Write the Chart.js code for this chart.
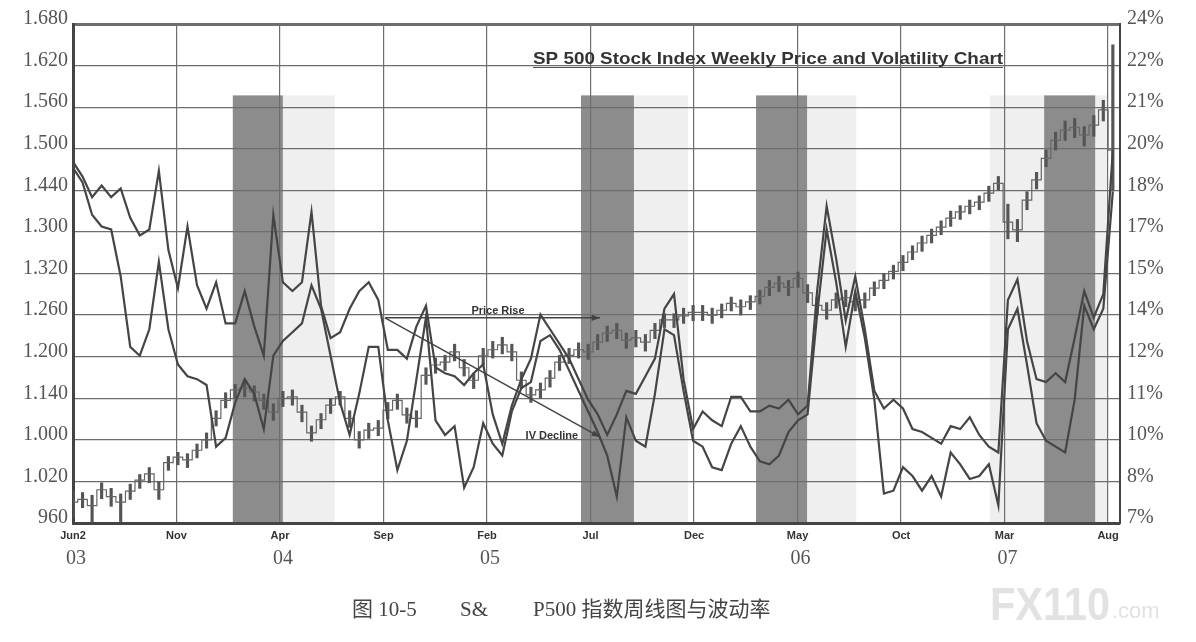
<!DOCTYPE html>
<html>
<head>
<meta charset="utf-8">
<script src="https://cdn.jsdelivr.net/npm/chart.js@4.4.1/dist/chart.umd.min.js"></script>
<style>
  html, body { margin: 0; padding: 0; background: #fff; }
  #wrap { width: 1196px; height: 642px; }
</style>
</head>
<body>
<div id="wrap"><canvas id="chart" width="1196" height="642"></canvas></div>
<script>
// weeks since Jun 2003, sampled every second week
const weeks = [0,2,4,6,8,10,12,14,16,18,20,22,24,26,28,30,32,34,36,38,
  40,42,44,46,48,50,52,54,56,58,60,62,64,66,68,70,72,74,76,78,
  80,82,84,86,88,90,92,94,96,98,100,102,104,106,108,110,112,114,116,118,
  120,122,124,126,128,130,132,134,136,138,140,142,144,146,148,150,152,154,156,158,
  160,162,164,166,168,170,172,174,176,178,180,182,184,186,188,190,192,194,196,198,
  200,202,204,206,208,210,212,214,216,218];

// weekly price range (low / high)
const priceLow = [968,982,961,995,984,962,994,1010,1018,994,
  1036,1044,1040,1054,1068,1100,1126,1140,1142,1136,
  1124,1108,1128,1130,1106,1078,1096,1118,1130,1098,
  1068,1082,1086,1110,1124,1104,1098,1160,1176,1180,
  1194,1172,1154,1188,1198,1204,1194,1154,1134,1140,
  1156,1180,1190,1198,1196,1210,1222,1226,1212,1214,
  1208,1226,1242,1242,1248,1252,1252,1248,1256,1266,
  1260,1268,1276,1288,1294,1288,1300,1278,1260,1254,
  1270,1272,1266,1270,1288,1298,1312,1324,1340,1352,
  1364,1376,1388,1398,1406,1412,1424,1440,1370,1366,
  1412,1442,1474,1498,1512,1516,1504,1518,1540,1440];
const priceHigh = [1006,1004,1000,1018,1010,1002,1016,1030,1040,1020,
  1056,1062,1060,1074,1090,1122,1148,1160,1166,1158,
  1146,1132,1150,1152,1130,1100,1118,1140,1150,1122,
  1092,1104,1108,1134,1146,1126,1122,1184,1198,1202,
  1218,1196,1176,1212,1222,1228,1218,1178,1156,1162,
  1180,1202,1212,1220,1218,1232,1244,1248,1234,1238,
  1232,1248,1262,1262,1270,1274,1274,1270,1276,1286,
  1282,1288,1296,1310,1316,1310,1322,1304,1286,1278,
  1292,1296,1290,1292,1308,1320,1332,1346,1360,1374,
  1384,1396,1410,1418,1426,1432,1446,1460,1420,1398,
  1438,1466,1498,1524,1540,1544,1532,1548,1570,1650];
// weekly close
const priceClose = [990,994,985,1008,998,990,1006,1022,1031,1008,
  1047,1055,1051,1065,1080,1111,1137,1152,1155,1149,
  1137,1120,1140,1142,1120,1090,1109,1130,1142,1111,
  1080,1094,1097,1123,1137,1116,1111,1173,1188,1192,
  1207,1184,1166,1201,1210,1217,1207,1166,1145,1152,
  1169,1192,1202,1210,1207,1221,1234,1238,1224,1227,
  1221,1238,1253,1253,1259,1264,1264,1260,1267,1277,
  1272,1279,1287,1300,1306,1300,1313,1292,1274,1267,
  1282,1285,1279,1282,1299,1310,1323,1336,1351,1364,
  1375,1387,1400,1409,1417,1423,1436,1450,1394,1383,
  1426,1455,1486,1512,1527,1531,1520,1534,1556,1498];

// the two volatility curves (%), upper and lower envelope
const upperVol = [19.3,18.8,18.1,18.5,18.1,18.4,17.4,16.8,17.0,19.0,
  16.3,15.0,17.1,15.1,14.3,15.2,13.8,13.8,14.9,13.7,
  12.7,17.5,15.2,14.9,15.2,17.6,14.4,13.3,13.5,14.3,
  14.9,15.2,14.6,12.9,12.9,12.6,13.7,14.4,12.3,12.1,
  12.0,11.7,12.1,12.4,10.7,9.7,11.0,11.9,12.6,14.1,
  13.6,13.1,12.6,11.9,11.2,10.7,10.0,10.7,11.5,11.4,
  12.0,12.6,14.3,14.8,11.9,10.2,10.8,10.5,10.3,11.3,
  11.3,10.8,10.8,11.0,10.9,11.2,10.7,11.0,14.9,17.8,
  16.0,13.9,15.4,13.6,11.5,10.9,11.2,10.9,10.2,10.1,
  9.9,9.7,10.3,10.2,10.6,10.0,9.6,9.4,14.6,15.3,
  13.2,11.9,11.8,12.1,11.8,13.3,14.9,14.0,14.8,19.7];
const lowerVol = [19.1,18.6,17.5,17.1,17.0,15.4,13.0,12.7,13.6,15.9,
  13.6,12.4,12.0,11.9,11.7,9.6,9.9,11.1,11.9,11.4,
  10.2,12.7,13.2,13.5,13.8,15.1,14.3,12.7,11.1,10.0,
  11.4,13.0,13.0,10.5,8.8,9.8,11.9,14.0,10.5,10.0,
  10.3,8.2,8.9,10.4,9.7,9.3,10.8,11.6,11.8,13.2,
  13.4,12.9,12.2,11.5,10.8,10.1,9.3,7.9,10.6,9.8,
  9.6,11.4,13.6,13.4,11.5,9.8,9.6,8.9,8.8,9.7,
  10.3,9.6,9.1,9.0,9.3,10.1,10.5,10.7,14.1,17.0,
  15.2,13.0,14.9,13.3,11.2,8.0,8.1,8.9,8.6,8.1,
  8.6,7.9,9.4,9.0,8.5,8.6,9.0,7.6,13.6,14.3,
  12.4,10.4,9.8,9.6,9.4,11.2,14.4,13.6,14.3,18.3];

// axis ticks, labels as printed
const xTickWeeks = [0, 21.7, 43.4, 65.1, 86.8, 108.5, 130.2, 151.9, 173.6, 195.3, 217];
const xTickLabels = ["Jun2", "Nov", "Apr", "Sep", "Feb", "Jul", "Dec", "May", "Oct", "Mar", "Aug"];
const yearWeeks = [0, 43.4, 86.8, 151.9, 195.3];
const yearLabels = ["03", "04", "05", "06", "07"];
const leftTickValues = [960, 1020, 1080, 1140, 1200, 1260, 1320, 1380, 1440, 1500, 1560, 1620, 1680];
const leftLabels = ["960", "1.020", "1.000", "1.140", "1.200", "1.260", "1.320", "1.300", "1.440", "1.500", "1.560", "1.620", "1.680"];
const rightTickValues = [7, 8.42, 9.83, 11.25, 12.67, 14.08, 15.5, 16.92, 18.33, 19.75, 21.17, 22.58, 24];
const rightLabels = ["7%", "8%", "10%", "11%", "12%", "14%", "15%", "17%", "18%", "20%", "21%", "22%", "24%"];

// shaded periods [startWeek, endWeek], top at price 1577
const darkBands = [[33.5, 44.0], [106.5, 117.6], [143.2, 153.9], [203.6, 214.3]];
const lightBands = [[44.0, 54.9], [117.6, 128.9], [153.9, 164.2], [192.2, 203.6], [214.3, 217]];
const bandTop = 1577;

// annotation arrows [week, price]
const arrowStart = [65.4, 1256];
const priceRiseEnd = [110.5, 1256];
const ivDeclineEnd = [110.5, 1084];
const priceRiseLabelAt = [89.1, 1266];
const ivDeclineLabelAt = [100.4, 1086];

const serif = "'Liberation Serif', 'DejaVu Serif', serif";
const sans = "'Liberation Sans', Arial, sans-serif";
const title = "SP 500 Stock Index Weekly Price and Volatility Chart";

const bandsPlugin = {
  id: "bands",
  beforeDraw(chart) {
    const { ctx, scales: { x, y } } = chart;
    const top = y.getPixelForValue(bandTop);
    const bottom = y.getPixelForValue(960);
    ctx.save();
    ctx.fillStyle = "#efefef";
    lightBands.forEach(([a, b]) => {
      const x0 = x.getPixelForValue(a), x1 = x.getPixelForValue(b);
      ctx.fillRect(x0, top, x1 - x0, bottom - top);
    });
    ctx.fillStyle = "#8c8c8c";
    darkBands.forEach(([a, b]) => {
      const x0 = x.getPixelForValue(a), x1 = x.getPixelForValue(b);
      ctx.fillRect(x0, top, x1 - x0, bottom - top);
    });
    ctx.restore();
  },
};

function arrow(ctx, x0, y0, x1, y1) {
  const ang = Math.atan2(y1 - y0, x1 - x0);
  ctx.beginPath();
  ctx.moveTo(x0, y0);
  ctx.lineTo(x1, y1);
  ctx.stroke();
  ctx.beginPath();
  ctx.moveTo(x1, y1);
  ctx.lineTo(x1 - 9 * Math.cos(ang - 0.35), y1 - 9 * Math.sin(ang - 0.35));
  ctx.lineTo(x1 - 9 * Math.cos(ang + 0.35), y1 - 9 * Math.sin(ang + 0.35));
  ctx.closePath();
  ctx.fill();
}

const annotationPlugin = {
  id: "annotations",
  afterDatasetsDraw(chart) {
    const { ctx, scales: { x, y } } = chart;
    const px = (p) => [x.getPixelForValue(p[0]), y.getPixelForValue(p[1])];
    const s = px(arrowStart), e1 = px(priceRiseEnd), e2 = px(ivDeclineEnd);
    ctx.save();
    ctx.strokeStyle = "#444";
    ctx.fillStyle = "#444";
    ctx.lineWidth = 1.5;
    arrow(ctx, s[0], s[1], e1[0], e1[1]);
    arrow(ctx, s[0], s[1], e2[0], e2[1]);
    ctx.font = "bold 11px " + sans;
    ctx.textAlign = "center";
    ctx.textBaseline = "middle";
    ctx.fillStyle = "#333";
    const l1 = px(priceRiseLabelAt), l2 = px(ivDeclineLabelAt);
    ctx.fillText("Price Rise", l1[0], l1[1]);
    ctx.fillText("IV Decline", l2[0], l2[1]);
    ctx.restore();
  },
  afterDraw(chart) {
    const { ctx, chartArea, scales: { x } } = chart;
    ctx.save();
    // year labels under the month ticks
    ctx.font = "20px " + serif;
    ctx.fillStyle = "#555";
    ctx.textAlign = "center";
    ctx.textBaseline = "middle";
    yearWeeks.forEach((w, i) => {
      ctx.fillText(yearLabels[i], x.getPixelForValue(w) + 3, chartArea.bottom + 36);
    });

    // title inside the plot, stretched to its printed width
    ctx.font = "bold 16px " + sans;
    ctx.fillStyle = "#333";
    ctx.textAlign = "left";
    ctx.textBaseline = "alphabetic";
    const tw = ctx.measureText(title).width;
    ctx.save();
    ctx.translate(533, 64);
    ctx.scale(470 / tw, 1.05);
    ctx.fillText(title, 0, 0);
    ctx.restore();
    ctx.strokeStyle = "#555";
    ctx.lineWidth = 1;
    ctx.beginPath();
    ctx.moveTo(533, 67.5);
    ctx.lineTo(1003, 67.5);
    ctx.stroke();

    // watermark
    ctx.fillStyle = "#e2e2e2";
    ctx.font = "bold 46px " + sans;
    ctx.fillText("FX110", 990, 620, 120);
    ctx.font = "22px " + sans;
    ctx.fillText(".com", 1112, 618);

    // caption
    ctx.fillStyle = "#444";
    ctx.font = "21px " + serif + ", 'Noto Sans CJK SC'";
    ctx.fillText("图 10-5", 352, 616);
    ctx.fillText("S&", 460, 616);
    ctx.fillText("P500 指数周线图与波动率", 533, 616);
    ctx.restore();
  },
};

const ctx = document.getElementById("chart").getContext("2d");
new Chart(ctx, {
  type: "bar",
  data: {
    datasets: [
      {
        type: "line",
        label: "upper vol",
        yAxisID: "y2",
        data: weeks.map((w, i) => ({ x: w, y: upperVol[i] })),
        borderColor: "#454545",
        borderWidth: 2.2,
        pointRadius: 0,
        tension: 0,
      },
      {
        type: "line",
        label: "lower vol",
        yAxisID: "y2",
        data: weeks.map((w, i) => ({ x: w, y: lowerVol[i] })),
        borderColor: "#454545",
        borderWidth: 2.2,
        pointRadius: 0,
        tension: 0,
      },
      {
        type: "line",
        label: "close",
        yAxisID: "y",
        data: weeks.map((w, i) => ({ x: w, y: priceClose[i] })),
        borderColor: "#666",
        borderWidth: 1.2,
        pointRadius: 0,
        stepped: "middle",
      },
      {
        type: "bar",
        label: "price",
        yAxisID: "y",
        data: weeks.map((w, i) => ({ x: w, y: [priceLow[i], priceHigh[i]] })),
        backgroundColor: "#555",
        barThickness: 2.5,
        grouped: false,
      },
    ],
  },
  options: {
    responsive: false,
    animation: false,
    layout: { padding: { top: 24, left: 0, right: 0, bottom: 0 } },
    plugins: { legend: { display: false }, tooltip: { enabled: false } },
    scales: {
      x: {
        type: "linear",
        offset: false,
        min: 0,
        max: 219.5,
        afterBuildTicks: (s) => { s.ticks = xTickWeeks.map((v) => ({ value: v })); },
        afterFit: (s) => { s.height = 119; },
        ticks: {
          autoSkip: false,
          maxRotation: 0,
          padding: 6,
          color: "#333",
          font: { family: sans, size: 11, weight: "bold" },
          callback: (v, i) => xTickLabels[i],
        },
        grid: { offset: false, color: "#6e6e6e", lineWidth: 1.2, drawTicks: false },
        border: { color: "#444", width: 3 },
      },
      y: {
        position: "left",
        min: 960,
        max: 1680,
        afterBuildTicks: (s) => { s.ticks = leftTickValues.map((v) => ({ value: v })); },
        afterFit: (s) => { s.width = 73; },
        ticks: {
          padding: 5,
          labelOffset: -5,
          color: "#555",
          font: { family: serif, size: 20 },
          callback: (v, i) => leftLabels[i],
        },
        grid: {
          color: "#6e6e6e",
          lineWidth: (c) => (c.index === leftTickValues.length - 1 ? 3 : 1.2),
          drawTicks: false,
        },
        border: { color: "#444", width: 3 },
      },
      y2: {
        position: "right",
        min: 7,
        max: 24,
        afterBuildTicks: (s) => { s.ticks = rightTickValues.map((v) => ({ value: v })); },
        afterFit: (s) => { s.width = 76; },
        ticks: {
          padding: 7,
          labelOffset: -5,
          color: "#555",
          font: { family: serif, size: 20 },
          callback: (v, i) => rightLabels[i],
        },
        grid: { drawOnChartArea: false, drawTicks: false },
        border: { color: "#444", width: 2 },
      },
    },
  },
  plugins: [bandsPlugin, annotationPlugin],
});
</script>
</body>
</html>
